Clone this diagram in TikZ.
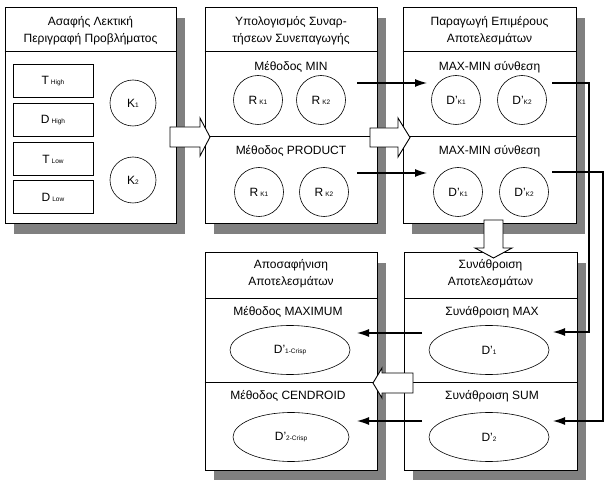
\documentclass[tikz,border=0pt]{standalone}
\usepackage{fontspec}
\setmainfont{Liberation Sans}
\usetikzlibrary{positioning, shapes.geometric, shadows, arrows.meta}
\definecolor{shadowgray}{RGB}{128,128,128}
\newcommand{\lo}[1]{{\fontsize{6.5pt}{7pt}\selectfont #1}}
\tikzset{
panel/.style={draw, line width=1pt, fill=white, minimum width=172pt, minimum height=216pt,
  drop shadow={shadow xshift=9pt, shadow yshift=-10pt, fill=shadowgray, opacity=1}},
divider/.style={line width=0.9pt},
term/.style={draw, line width=0.8pt, minimum width=80pt, minimum height=33pt},
ring/.style={draw, circle, line width=0.6pt, minimum size=49pt, inner sep=0pt},
oval/.style={draw, ellipse, line width=0.6pt, minimum width=120pt, minimum height=49pt, inner sep=0pt},
conn/.style={line width=1.2pt, -{Latex[length=12pt,width=8pt]}},
bigarrow/.style={draw, line width=0.9pt, fill=white},
}

\begin{document}
\begin{tikzpicture}[x=1pt, y=-1pt, font=\fontsize{12}{17}\selectfont]
    \useasboundingbox (0,0) rectangle (611,489);

    %panels, top row
    \node[panel, minimum width=171pt] (p1) at (90.5,116) { };
    \node[panel]                      (p2) at (291,116) { };
    \node[panel, minimum width=173pt] (p3) at (489.5,116) { };

    %panels, bottom row
    \node[panel, minimum height=217pt] (p4) at (291,361.5) { };
    \node[panel, minimum width=173pt, minimum height=217pt] (p5) at (490.5,361.5) { };

    %header lines
    \draw[divider] (p1.west |- 0,51) -- (p1.east |- 0,51);
    \draw[divider] (p2.west |- 0,51) -- (p2.east |- 0,51);
    \draw[divider] (p3.west |- 0,51) -- (p3.east |- 0,51);
    \draw[divider] (p4.west |- 0,298) -- (p4.east |- 0,298);
    \draw[divider] (p5.west |- 0,298) -- (p5.east |- 0,298);

    %section lines
    \draw[divider] (p2.west |- 0,136) -- (p2.east |- 0,136);
    \draw[divider] (p3.west |- 0,136) -- (p3.east |- 0,136);
    \draw[divider] (p4.west |- 0,382) -- (p4.east |- 0,382);
    \draw[divider] (p5.west |- 0,382) -- (p5.east |- 0,382);

    %headers
    \node[align=center] (h1) at (90.5,31) {Ασαφής Λεκτική\\Περιγραφή Προβλήματος};
    \node[align=center] (h2) at (291,31) {Υπολογισμός Συναρ-\\τήσεων Συνεπαγωγής};
    \node[align=center] (h3) at (489.5,31) {Παραγωγή Επιμέρους\\Αποτελεσμάτων};
    \node[align=center] (h4) at (291,274) {Αποσαφήνιση\\Αποτελεσμάτων};
    \node[align=center] (h5) at (490.5,274) {Συνάθροιση\\Αποτελεσμάτων};

    %first panel
    \node[term] (thigh) at (53,81)  {T\,\lo{High}};
    \node[term] (dhigh) at (53,120) {D\,\lo{High}};
    \node[term] (tlow)  at (53,159) {T\,\lo{Low}};
    \node[term] (dlow)  at (53,197) {D\,\lo{Low}};
    \node[ring, minimum size=46pt] (k1) at (133,103) {K\lo{1}};
    \node[ring, minimum size=46pt] (k2) at (133,180) {K\lo{2}};

    %second panel
    \node (min) at (291,67) {Μέθοδος MIN};
    \node[ring] (rmin1) at (258,100) {R\,\lo{K1}};
    \node[ring] (rmin2) at (321,100) {R\,\lo{K2}};
    \node (prod) at (291,151) {Μέθοδος PRODUCT};
    \node[ring] (rprod1) at (259,192) {R\,\lo{K1}};
    \node[ring] (rprod2) at (324,192) {R\,\lo{K2}};

    %third panel
    \node (comp1) at (489.5,67) {MAX-MIN σύνθεση};
    \node[ring] (dmin1) at (456,100) {D'\lo{K1}};
    \node[ring] (dmin2) at (522,100) {D'\lo{K2}};
    \node (comp2) at (489.5,151) {MAX-MIN σύνθεση};
    \node[ring] (dprod1) at (458,192) {D'\lo{K1}};
    \node[ring] (dprod2) at (524,192) {D'\lo{K2}};

    %fifth panel
    \node (aggmax) at (492,312) {Συνάθροιση MAX};
    \node[oval] (d1) at (489,350) {D'\lo{1}};
    \node (aggsum) at (492,396) {Συνάθροιση SUM};
    \node[oval] (d2) at (489,437) {D'\lo{2}};

    %fourth panel
    \node (maxm) at (288,312) {Μέθοδος MAXIMUM};
    \node[oval] (c1) at (290,350) {D'\lo{1-Crisp}};
    \node (cend) at (288,396) {Μέθοδος CENDROID};
    \node[oval, minimum width=116pt] (c2) at (291,437) {D'\lo{2-Crisp}};

    %line ends
    \coordinate (a1) at (357,83);
    \coordinate (a2) at (427,83);
    \coordinate (b1) at (357,173);
    \coordinate (b2) at (427,173);
    \coordinate (e1) at (552,83);
    \coordinate (e2) at (553,332);
    \coordinate (f1) at (552,172);
    \coordinate (f2) at (553,421);
    \coordinate (g1) at (422,333);
    \coordinate (g2) at (357,333);
    \coordinate (i1) at (422,421);
    \coordinate (i2) at (357,421);

    %connectors
    \draw[conn] (a1) -- (a2);
    \draw[conn] (b1) -- (b2);
    \draw[conn] (e1) -- ++(37,0) |- (e2);
    \draw[conn] (f1) -- ++(51,0) |- (f2);
    \draw[conn] (g1) -- (g2);
    \draw[conn] (i1) -- (i2);

    %block arrows
    \draw[bigarrow] (170,127) -- (200,127) -- (200,118) -- (210,137)
        -- (200,156) -- (200,147) -- (170,147) -- cycle;
    \draw[bigarrow] (370,128) -- (398,128) -- (398,118) -- (410,137.5)
        -- (398,157) -- (398,147) -- (370,147) -- cycle;
    \draw[bigarrow] (484,220) -- (484,248) -- (475,248) -- (493.5,258)
        -- (512,248) -- (503,248) -- (503,220) -- cycle;
    \draw[bigarrow] (413,373) -- (382,373) -- (382,368) -- (373,383)
        -- (382,398) -- (382,393) -- (413,393) -- cycle;
\end{tikzpicture}
\end{document}
